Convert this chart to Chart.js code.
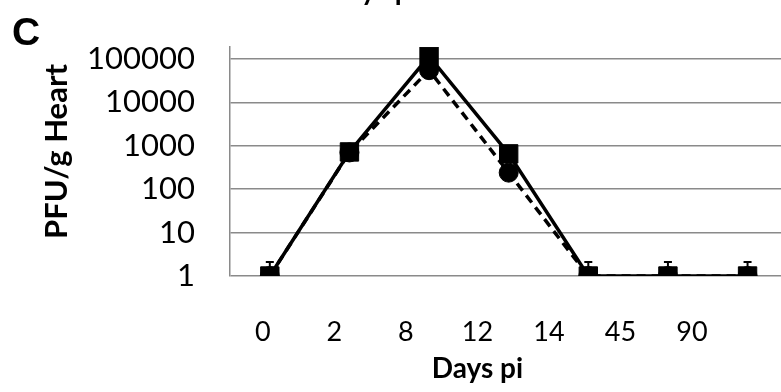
<!DOCTYPE html>
<html>
<head>
<meta charset="utf-8">
<script src="https://cdn.jsdelivr.net/npm/chart.js@4/dist/chart.umd.min.js"></script>
<style>
  html, body { margin: 0; padding: 0; background: #fff; }
  #wrap { width: 781px; height: 392px; }
</style>
</head>
<body>
<div id="wrap"><canvas id="c" width="781" height="392"></canvas></div>
<script>
// Sampling days (post infection) and titre in PFU per gram of heart
const days = ['0', '2', '8', '12', '14', '45', '90'];
const seriesSolid = [1, 720, 115000, 650, 1, 1, 1];
const seriesDashed = [1, 700, 55000, 240, 1, 1, 1];
// upper error (added to the value) for the solid series; null = none shown
const errSolid = [1.1, null, null, null, 1.1, 1.1, 1.1];
const yTickValues = [1, 10, 100, 1000, 10000, 100000];
const yTickLabels = ['1', '10', '100', '1000', '10000', '100000'];
const xTitle = 'Days pi';
const yTitle = 'PFU/g Heart';
const panelLetter = 'C';

const GRID = '#8a8a8a';
const FONT = 'Lato, "DejaVu Sans", sans-serif';

const toPoints = arr => arr.map((v, i) => ({ x: i, y: v }));

// upward error bars with a small cap
const errorBars = {
  id: 'errorBars',
  beforeDatasetsDraw(chart) {
    const { ctx } = chart;
    const xs = chart.scales.x, ys = chart.scales.y;
    ctx.save();
    ctx.strokeStyle = '#000';
    ctx.lineWidth = 2;
    errSolid.forEach((e, i) => {
      if (e == null) return;
      const px = xs.getPixelForValue(i);
      const y0 = ys.getPixelForValue(seriesSolid[i]);
      const y1 = ys.getPixelForValue(seriesSolid[i] + e);
      ctx.beginPath();
      ctx.moveTo(px, y0);
      ctx.lineTo(px, y1);
      ctx.moveTo(px - 4, y1);
      ctx.lineTo(px + 4, y1);
      ctx.stroke();
    });
    ctx.restore();
  }
};

// panel letter, axis titles and the clipped caption of the panel above
const panelText = {
  id: 'panelText',
  afterDraw(chart) {
    const { ctx } = chart;
    const lx = chart.scales.xl, ys = chart.scales.y;
    ctx.save();
    ctx.fillStyle = '#000';
    ctx.textBaseline = 'alphabetic';
    ctx.textAlign = 'left';
    ctx.font = 'bold 39px "Liberation Sans", Arial, sans-serif';
    ctx.fillText(panelLetter, 12, 45);

    ctx.textAlign = 'center';
    ctx.font = 'bold 28px ' + FONT;
    ctx.fillText(xTitle, lx.getPixelForValue(3), 378);
    ctx.fillText(xTitle, 372, 0);

    ctx.font = 'bold 31px ' + FONT;
    ctx.translate(67, (ys.top + ys.bottom) / 2 - 10);
    ctx.rotate(-Math.PI / 2);
    ctx.fillText(yTitle, 0, 0);
    ctx.restore();
  }
};

new Chart(document.getElementById('c'), {
  type: 'line',
  data: {
    datasets: [
      {
        label: 'dashed',
        data: toPoints(seriesDashed),
        borderColor: '#000',
        backgroundColor: '#000',
        borderWidth: 3.5,
        borderDash: [9, 6],
        pointStyle: 'circle',
        pointRadius: 9.5,
        pointBorderWidth: 1,
        xAxisID: 'x',
        yAxisID: 'y'
      },
      {
        label: 'solid',
        data: toPoints(seriesSolid),
        borderColor: '#000',
        backgroundColor: '#000',
        borderWidth: 3.5,
        pointStyle: 'rect',
        pointRadius: 13,
        pointBorderWidth: 1,
        xAxisID: 'x',
        yAxisID: 'y'
      }
    ]
  },
  options: {
    responsive: false,
    animation: false,
    devicePixelRatio: 1,
    layout: { autoPadding: false, padding: { top: 47, left: 0, right: 0, bottom: 0 } },
    plugins: { legend: { display: false }, tooltip: { enabled: false } },
    scales: {
      x: {
        type: 'linear',
        display: false,
        min: -0.5,
        max: 6.42
      },
      xl: {
        type: 'linear',
        position: 'bottom',
        min: -0.46,
        max: 7.245,
        grid: { display: false, drawTicks: false },
        border: { display: false },
        afterBuildTicks: s => { s.ticks = days.map((_, i) => ({ value: i })); },
        afterFit: s => { s.height = 116; s.paddingLeft = 0; s.paddingRight = 0; },
        ticks: {
          padding: 40,
          color: '#000',
          font: { family: FONT, size: 27 },
          maxRotation: 0,
          autoSkip: false,
          callback: v => days[v]
        }
      },
      y: {
        type: 'logarithmic',
        min: 1,
        max: 188000,
        afterBuildTicks: s => { s.ticks = yTickValues.map(v => ({ value: v })); },
        afterFit: s => { s.width = 230; s.paddingTop = 0; s.paddingBottom = 0; },
        grid: { color: GRID, lineWidth: 1.5, drawTicks: false },
        border: { display: true, color: GRID, width: 1.5 },
        ticks: {
          padding: 35,
          color: '#000',
          font: { family: FONT, size: 31 },
          callback: v => yTickLabels[yTickValues.indexOf(v)]
        }
      }
    }
  },
  plugins: [errorBars, panelText]
});
</script>
</body>
</html>
